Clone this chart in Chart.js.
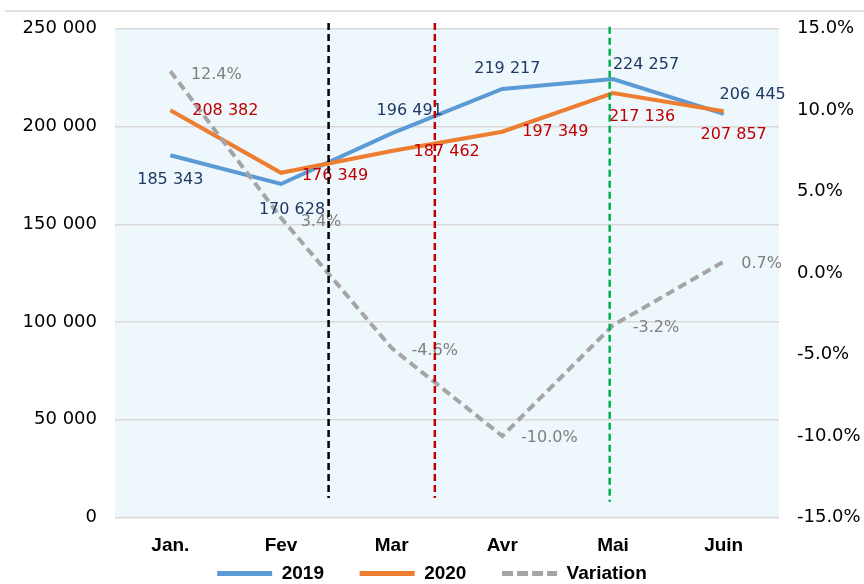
<!DOCTYPE html>
<html>
<head>
<meta charset="utf-8">
<script src="https://cdn.jsdelivr.net/npm/chart.js@4.4.0/dist/chart.umd.min.js"></script>
<style>
  html, body { margin: 0; padding: 0; background: #fff; }
  #wrap { width: 864px; height: 584px; }
</style>
</head>
<body>
<div id="wrap"><canvas id="chart"></canvas></div>
<script>
// Data
const months = ["Jan.", "Fev", "Mar", "Avr", "Mai", "Juin"];
const sales2019 = [185343, 170628, 196491, 219217, 224257, 206445];
const sales2020 = [208382, 176349, 187462, 197349, 217136, 207857];
const variation = [12.4, 3.4, -4.6, -10.0, -3.2, 0.7];
const leftTicks = [0, 50000, 100000, 150000, 200000, 250000];
const rightTicks = [-15, -10, -5, 0, 5, 10, 15];

// vertical dashed markers (category index units)
const markerAt = [1.43, 2.39, 3.97];
const markerColors = ["#000000", "#c00000", "#00b050"];

// label offsets from each point (dx, dy)
const labelOffsets = [
    [[0, 25], [11, 26], [18, -23], [5, -20], [33, -14], [29, -19]],
    [[55, 1], [54, 3], [55, 1], [53, 0], [29, 24], [10, 24]],
    [[46, 4], [40, 4], [43, 3], [47, 2], [43, 3], [38, 2]]
];
const labelColors = ["#1f3864", "#c00000", "#7f7f7f"];

const fmtNum = n => String(n).replace(/\B(?=(\d{3})+(?!\d))/g, " ");
const fmtPct = v => v.toFixed(1) + "%";

/* ===== plot background ===== */
const plotBg = {
    id: "plotBg",
    beforeDraw(chart) {
        const { ctx, chartArea: a } = chart;
        ctx.save();
        ctx.fillStyle = "#eef7fc";
        ctx.fillRect(a.left, a.top, a.right - a.left, a.bottom - a.top);
        ctx.strokeStyle = "#d9d9d9";
        ctx.lineWidth = 1.5;
        ctx.beginPath();
        ctx.moveTo(5, 11);
        ctx.lineTo(chart.width, 11);
        ctx.stroke();
        ctx.restore();
    }
};

/* ===== value labels ===== */
const valueLabels = {
    id: "valueLabels",
    afterDatasetsDraw(chart) {
        const { ctx } = chart;
        ctx.save();
        ctx.font = "16px 'DejaVu Sans'";
        ctx.textAlign = "center";
        ctx.textBaseline = "middle";
        chart.data.datasets.forEach((ds, di) => {
            const meta = chart.getDatasetMeta(di);
            ctx.fillStyle = labelColors[di];
            meta.data.forEach((pt, i) => {
                const v = ds.data[i];
                const txt = di === 2 ? fmtPct(v) : fmtNum(v);
                const [dx, dy] = labelOffsets[di][i];
                ctx.fillText(txt, pt.x + dx, pt.y + dy);
            });
        });
        ctx.restore();
    }
};

/* ===== vertical markers ===== */
const markers = {
    id: "markers",
    afterDraw(chart) {
        const { ctx, scales } = chart;
        ctx.save();
        ctx.lineWidth = 2.5;
        ctx.setLineDash([7, 4]);
        markerAt.forEach((m, i) => {
            const x = scales.x.getPixelForValue(m);
            const top = scales.y.getPixelForValue(i === 2 ? 251000 : 253000);
            const bottom = scales.y.getPixelForValue(i === 2 ? 8000 : 10000);
            ctx.strokeStyle = markerColors[i];
            ctx.beginPath();
            ctx.moveTo(x, top);
            ctx.lineTo(x, bottom);
            ctx.stroke();
        });
        ctx.restore();
    }
};

new Chart(document.getElementById("chart"), {
    type: "line",
    data: {
        labels: months,
        datasets: [
            { label: "2019", data: sales2019, yAxisID: "y", borderColor: "#5b9bd5", backgroundColor: "#5b9bd5", borderWidth: 4, pointRadius: 0, tension: 0, order: 3 },
            { label: "2020", data: sales2020, yAxisID: "y", borderColor: "#ed7d31", backgroundColor: "#ed7d31", borderWidth: 4, pointRadius: 0, tension: 0, order: 2 },
            { label: "Variation", data: variation, yAxisID: "y2", borderColor: "#a5a5a5", backgroundColor: "#a5a5a5", borderWidth: 4, borderDash: [9, 5], pointRadius: 0, tension: 0, order: 1 }
        ]
    },
    options: {
        responsive: true,
        maintainAspectRatio: false,
        animation: false,
        layout: { padding: { top: 24, left: 0, right: 0, bottom: -9 } },
        plugins: {
            tooltip: { enabled: false },
            legend: {
                position: "bottom",
                labels: {
                    usePointStyle: true,
                    pointStyle: "line",
                    pointStyleWidth: 55,
                    padding: 4,
                    color: "#000",
                    font: { family: "'Liberation Sans', Arial", size: 19, weight: "bold" },
                    sort: (a, b) => a.datasetIndex - b.datasetIndex,
                    generateLabels(chart) {
                        const items = Chart.defaults.plugins.legend.labels.generateLabels(chart);
                        items.forEach(it => {
                            const ds = chart.data.datasets[it.datasetIndex];
                            it.lineWidth = 5;
                            it.strokeStyle = ds.borderColor;
                            it.lineDash = ds.borderDash ? [11, 4] : [];
                            if (it.datasetIndex < 2) it.text = it.text + "      ";
                        });
                        return items;
                    }
                }
            }
        },
        scales: {
            x: {
                offset: true,
                grid: { display: false, drawTicks: false },
                border: { display: false },
                ticks: {
                    color: "#000",
                    padding: 17,
                    font: { family: "'Liberation Sans', Arial", size: 19, weight: "bold" }
                },
                afterFit: s => { s.height = 42.5; }
            },
            y: {
                position: "left",
                min: 0,
                max: 250000,
                grid: { color: "#d9d9d9", lineWidth: 1.5, drawTicks: false },
                border: { display: false },
                afterBuildTicks: s => { s.ticks = leftTicks.map(v => ({ value: v })); },
                ticks: {
                    color: "#000",
                    padding: 18,
                    font: { family: "'DejaVu Sans'", size: 18 },
                    callback: v => fmtNum(v)
                },
                afterFit: s => { s.width = 115; }
            },
            y2: {
                position: "right",
                min: -15,
                max: 15,
                grid: { display: false, drawTicks: false },
                border: { display: false },
                afterBuildTicks: s => { s.ticks = rightTicks.map(v => ({ value: v })); },
                ticks: {
                    color: "#000",
                    padding: 18,
                    font: { family: "'DejaVu Sans'", size: 18 },
                    callback: v => fmtPct(v)
                },
                afterFit: s => { s.width = 85; }
            }
        }
    },
    plugins: [plotBg, valueLabels, markers]
});
</script>
</body>
</html>
